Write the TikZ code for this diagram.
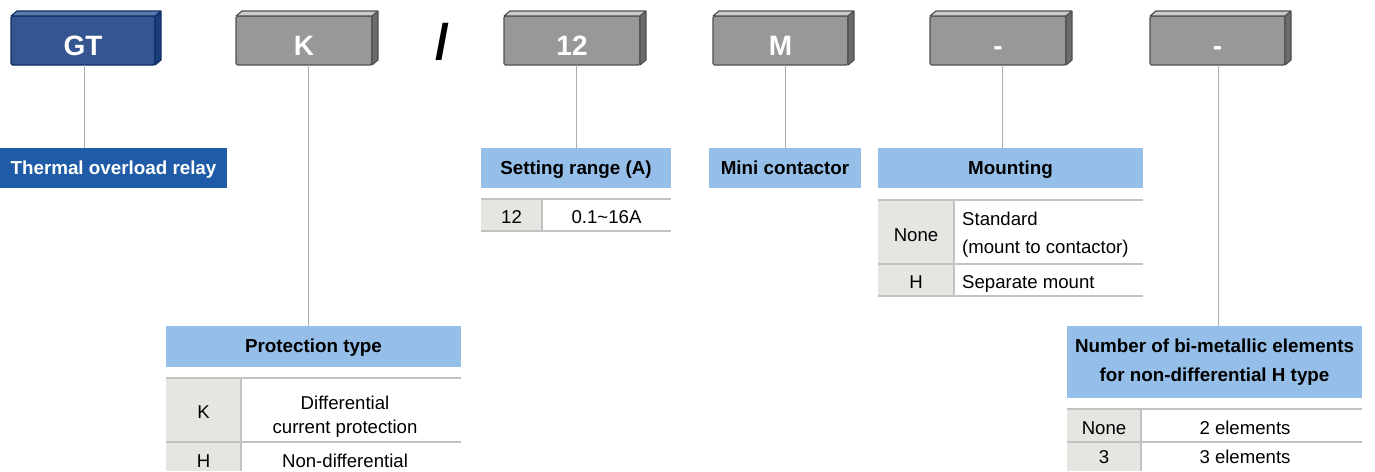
\documentclass[tikz,border=0pt]{standalone}
\usepackage{fontspec}
\setmainfont{Liberation Sans}
\usetikzlibrary{calc}
\definecolor{gtfront}{HTML}{34558F}
\definecolor{gttop}{HTML}{5C7AAD}
\definecolor{gtside}{HTML}{1A3D7A}
\definecolor{gtborder}{HTML}{0E2E66}
\definecolor{gyfront}{HTML}{98989B}
\definecolor{gytop}{HTML}{CBCBCB}
\definecolor{gyside}{HTML}{6B6B6D}
\definecolor{gyborder}{HTML}{505050}
\definecolor{relayblue}{HTML}{1F5BA6}
\definecolor{headblue}{HTML}{95BFE8}
\definecolor{cellgray}{HTML}{E6E5E2}
\definecolor{tablegray}{HTML}{C2C2C2}
\definecolor{conngray}{HTML}{ADADAD}
\newcommand{\boxfaces}[4]{%
  \fill[#2] (#1.north west) -- ++(6,-5) -- ($(#1.north east)+(6,-5)$) -- (#1.north east) -- cycle;
  \fill[#3] (#1.north east) -- ++(6,-5) -- ($(#1.south east)+(6,-5)$) -- (#1.south east) -- cycle;
  \draw[#4, line width=1.2pt, line join=round]
    (#1.north west) -- ++(6,-5) -- ($(#1.north east)+(6,-5)$) -- ($(#1.south east)+(6,-5)$) -- (#1.south east)
    (#1.north east) -- ++(6,-5)
    (#1.north west) -- (#1.north east) -- (#1.south east);
}
\begin{document}
\begin{tikzpicture}[x=1pt,y=-1pt,
  codebox/.style={anchor=north west, inner sep=0pt, outer sep=0pt, minimum height=49pt,
    line width=1.2pt, rounded corners=1.5pt, text=white,
    font=\fontsize{28}{30}\selectfont\bfseries, text height=29pt, text depth=0pt},
  gtbox/.style={codebox, fill=gtfront, draw=gtborder},
  graybox/.style={codebox, fill=gyfront, draw=gyborder},
  head/.style={anchor=north west, inner sep=0pt, outer sep=0pt, fill=headblue,
    font=\fontsize{18.8}{29.5}\selectfont\bfseries},
  onehead/.style={head, minimum height=40pt, text height=12pt, text depth=0pt},
  cell/.style={anchor=base, inner sep=0pt, font=\fontsize{18.6}{22}\selectfont},
  cellw/.style={cell, anchor=base west},
  tline/.style={draw=tablegray, line width=1.1pt},
  conn/.style={draw=conngray, line width=0.9pt}
]
\useasboundingbox (0,0) rectangle (1375,471);

% code boxes
\node[gtbox, minimum width=144pt] (gt) at (11,16) {GT};
\boxfaces{gt}{gttop}{gtside}{gtborder}
\node[graybox, minimum width=136pt] (k) at (236,16) {K};
\boxfaces{k}{gytop}{gyside}{gyborder}
\node[anchor=base, inner sep=0pt, font=\fontsize{50}{52}\selectfont\bfseries] (slash) at (442,59) {/};
\node[graybox, minimum width=136pt] (c12) at (504,16) {12};
\boxfaces{c12}{gytop}{gyside}{gyborder}
\node[graybox, minimum width=135pt] (m) at (713,16) {M};
\boxfaces{m}{gytop}{gyside}{gyborder}
\node[graybox, minimum width=136pt] (d1) at (930,16) {-};
\boxfaces{d1}{gytop}{gyside}{gyborder}
\node[graybox, minimum width=135pt] (d2) at (1150,16) {-};
\boxfaces{d2}{gytop}{gyside}{gyborder}

% headings
\node[onehead, fill=relayblue, text=white, minimum width=227pt] (relay) at (0,148) {Thermal overload relay};
\node[onehead, minimum width=190pt] (setting) at (481,148) {Setting range (A)};
\node[onehead, minimum width=152pt] (mini) at (709,148) {Mini contactor};
\node[onehead, minimum width=265pt] (mount) at (878,148) {Mounting};
\node[onehead, minimum width=295pt, minimum height=41pt] (prot) at (166,326) {Protection type};
\node[head, minimum width=295pt, minimum height=72pt, align=center] (num) at (1067,326)
  {Number of bi-metallic elements\\for non-differential H type};

% connectors
\draw[conn] ([xshift=1.3pt]gt.south) -- ([xshift=1.3pt]gt.south |- relay.north);
\draw[conn] ([xshift=4.5pt]k.south) -- ([xshift=4.5pt]k.south |- prot.north);
\draw[conn] ([xshift=4pt]c12.south) -- ([xshift=4pt]c12.south |- setting.north);
\draw[conn] ([xshift=4.5pt]m.south) -- ([xshift=4.5pt]m.south |- mini.north);
\draw[conn] ([xshift=4pt]d1.south) -- ([xshift=4pt]d1.south |- mount.north);
\draw[conn] ([xshift=1pt]d2.south) -- ([xshift=1pt]d2.south |- num.north);

% setting table
\fill[cellgray] (481,199) rectangle (542,231);
\draw[tline] (481,199) -- (671,199) (481,231) -- (671,231) (542,199) -- (542,231);
\node[cell] (s12) at (511.5,223) {12};
\node[cell] (srange) at (606.5,223) {0.1\textasciitilde 16A};

% mounting table
\fill[cellgray] (878,200) rectangle (954,296);
\draw[tline] (878,200) -- (1143,200) (878,264) -- (1143,264) (878,296) -- (1143,296) (954,200) -- (954,296);
\node[cell] (mnone) at (916,241) {None};
\node[cellw] (mstd) at (962,225) {Standard};
\node[cellw] (mstd2) at (962,253) {(mount to contactor)};
\node[cell] (mh) at (916,288) {H};
\node[cellw] (msep) at (962,288) {Separate mount};

% protection table
\fill[cellgray] (166,378) rectangle (241,471);
\draw[tline] (166,378) -- (461,378) (166,442) -- (461,442) (241,378) -- (241,471);
\node[cell] (pk) at (203.5,418) {K};
\node[cell] (pdiff) at (345,409) {Differential};
\node[cell] (pdiff2) at (345,433) {current protection};
\node[cell] (ph) at (203.5,467) {H};
\node[cell] (pnon) at (345,467) {Non-differential};

% number table
\fill[cellgray] (1067,409) rectangle (1141,471);
\draw[tline] (1067,409) -- (1362,409) (1067,442) -- (1362,442) (1141,409) -- (1141,471);
\node[cell] (nnone) at (1104,434) {None};
\node[cell] (n2) at (1245,434) {2 elements};
\node[cell] (n3) at (1104,463) {3};
\node[cell] (n3e) at (1245,463) {3 elements};
\end{tikzpicture}
\end{document}
